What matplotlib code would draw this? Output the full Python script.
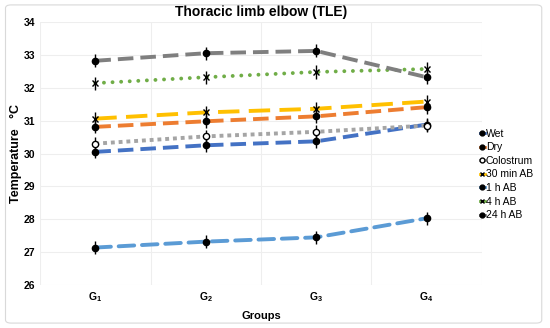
import numpy as np
import matplotlib.pyplot as plt
from matplotlib.patches import FancyBboxPatch

plt.rcParams['font.family'] = ['Liberation Sans', 'DejaVu Sans']
plt.rcParams['mathtext.fontset'] = 'custom'
plt.rcParams['mathtext.bf'] = 'Liberation Sans:bold'
plt.rcParams['mathtext.rm'] = 'Liberation Sans'

groups = ["$\\mathbf{G_1}$", "$\\mathbf{G_2}$", "$\\mathbf{G_3}$", "$\\mathbf{G_4}$"]
series = ["Wet", "Dry", "Colostrum", "30 min AB", "1 h AB", "4 h AB", "24 h AB"]
wet = [30.05, 30.25, 30.37, 30.88]
dry = [30.81, 30.98, 31.13, 31.41]
colostrum = [30.30, 30.52, 30.66, 30.85]
ab_30min = [31.06, 31.25, 31.36, 31.58]
ab_1h = [27.14, 27.32, 27.45, 28.03]
ab_4h = [32.14, 32.32, 32.48, 32.57]
ab_24h = [32.82, 33.05, 33.12, 32.32]
err = 0.2

values = [wet, dry, colostrum, ab_30min, ab_1h, ab_4h, ab_24h]
colors = ["#4472C4", "#ED7D31", "#A5A5A5", "#FFC000", "#5B9BD5", "#70AD47", "#7F7F7F"]
dashes = [(4, 1.8), (4, 1.8), (1, 1), (5.5, 2.4), (4, 2), (0.01, 2.2), (4, 1.8)]
caps = ["butt", "butt", "butt", "butt", "round", "round", "butt"]
markers = ["o", "o", "o", "x", "o", "x", "o"]
mfc = ["black", "black", "white", "black", "black", "black", "black"]

fig = plt.figure(figsize=(5.5, 3.28), dpi=100)
ax = fig.add_axes([0.073, 0.131, 0.803, 0.802])
fig.patches.append(FancyBboxPatch((0.01, 0.015), 0.975, 0.97, boxstyle="round,pad=0,rounding_size=0.01",
                                  transform=fig.transFigure, fill=False, ec="#d9d9d9", lw=0.8))

x = np.arange(len(groups))
for i in range(len(series)):
    ax.plot(x, values[i], color=colors[i], lw=2.8, linestyle=(0, dashes[i]),
            dash_capstyle=caps[i], zorder=2)
    ax.errorbar(x, values[i], yerr=err, fmt=markers[i], color="black", mfc=mfc[i], mec="black",
                ms=4.5, mew=1, elinewidth=1, capsize=0, zorder=3)
    ax.plot([], [], marker=markers[i], color=colors[i], mfc=mfc[i], mec="black", ms=3.5,
            lw=2, label=series[i])

ax.set_xlim(-0.5, 3.5)
ax.set_ylim(26, 34)
ax.set_xticks(x)
ax.set_xticklabels(groups)
ax.set_xticks(np.arange(-0.5, 4, 1), minor=True)
ax.set_yticks(np.arange(26, 35, 1))
ax.grid(True, which="minor", axis="x", color="#eeeeee", lw=0.8)
ax.grid(True, which="major", axis="y", color="#eeeeee", lw=0.8)
ax.tick_params(which="both", length=0, labelsize=7.5)
for t in ax.get_yticklabels():
    t.set_fontweight("bold")
for s in ax.spines.values():
    s.set_visible(False)

ax.set_title("Thoracic limb elbow (TLE)", fontsize=10, fontweight="bold", pad=4)
ax.set_ylabel("Temperature   °C", fontsize=9, fontweight="bold")
ax.yaxis.set_label_coords(-0.04, 0.5)
ax.set_xlabel("Groups", fontsize=8, fontweight="bold")
ax.xaxis.set_label_coords(0.5, -0.1)

ax.legend(loc="upper left", bbox_to_anchor=(0.995, 0.595), frameon=False, fontsize=7.5,
          handlelength=0.55, handletextpad=0.05, labelspacing=0.35, borderaxespad=0,
          borderpad=0)

fig.savefig("out.png", dpi=100)
